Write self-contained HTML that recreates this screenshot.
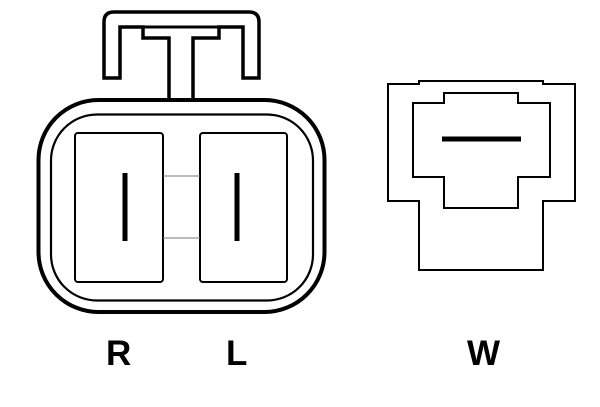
<!DOCTYPE html>
<html><head><style>
html,body{margin:0;padding:0;background:#fff;width:600px;height:407px;overflow:hidden}
svg{display:block}
text{font-family:"Liberation Sans",sans-serif;font-weight:bold;font-size:35px;fill:#000}
</style></head><body>
<svg width="600" height="407" viewBox="0 0 600 407">
<g fill="none" stroke="#000" stroke-linejoin="miter">
<!-- latch -->
<path d="M193,100 V38 H219 V27 H243 V78 H259 V22 Q259,12 249,12 H114 Q104,12 104,22 V78 H120 V27 H143 V38 H169 V100" stroke-width="3.5"/>
<line x1="143" y1="27" x2="219" y2="27" stroke-width="3"/>
<!-- housing -->
<rect x="38.5" y="100" width="286" height="212" rx="60" stroke-width="4"/>
<rect x="51" y="114.5" width="262" height="186" rx="46" stroke-width="2.2"/>
<!-- pins -->
<rect x="75" y="133" width="88" height="149" rx="3" stroke-width="2"/>
<rect x="200" y="133" width="87" height="149" rx="3" stroke-width="2"/>
<line x1="163" y1="176" x2="200" y2="176" stroke="#777" stroke-width="1"/>
<line x1="163" y1="238" x2="200" y2="238" stroke="#777" stroke-width="1"/>
<!-- W connector -->
<path d="M388,84 H419 V81 H543 V84 H575 V201 H543 V270 H419 V201 H388 Z" stroke-width="2"/>
<path d="M413,103 H444 V93 H518 V103 H550 V177 H518 V208 H444 V177 H413 Z" stroke-width="2"/>
</g>
<rect x="122.5" y="173" width="5" height="68" fill="#000"/>
<rect x="234.5" y="173" width="5" height="68" fill="#000"/>
<rect x="442" y="136.5" width="79" height="5" fill="#000"/>
<text x="106" y="365">R</text>
<text x="226" y="365">L</text>
<text x="467" y="365">W</text>
</svg>
</body></html>
